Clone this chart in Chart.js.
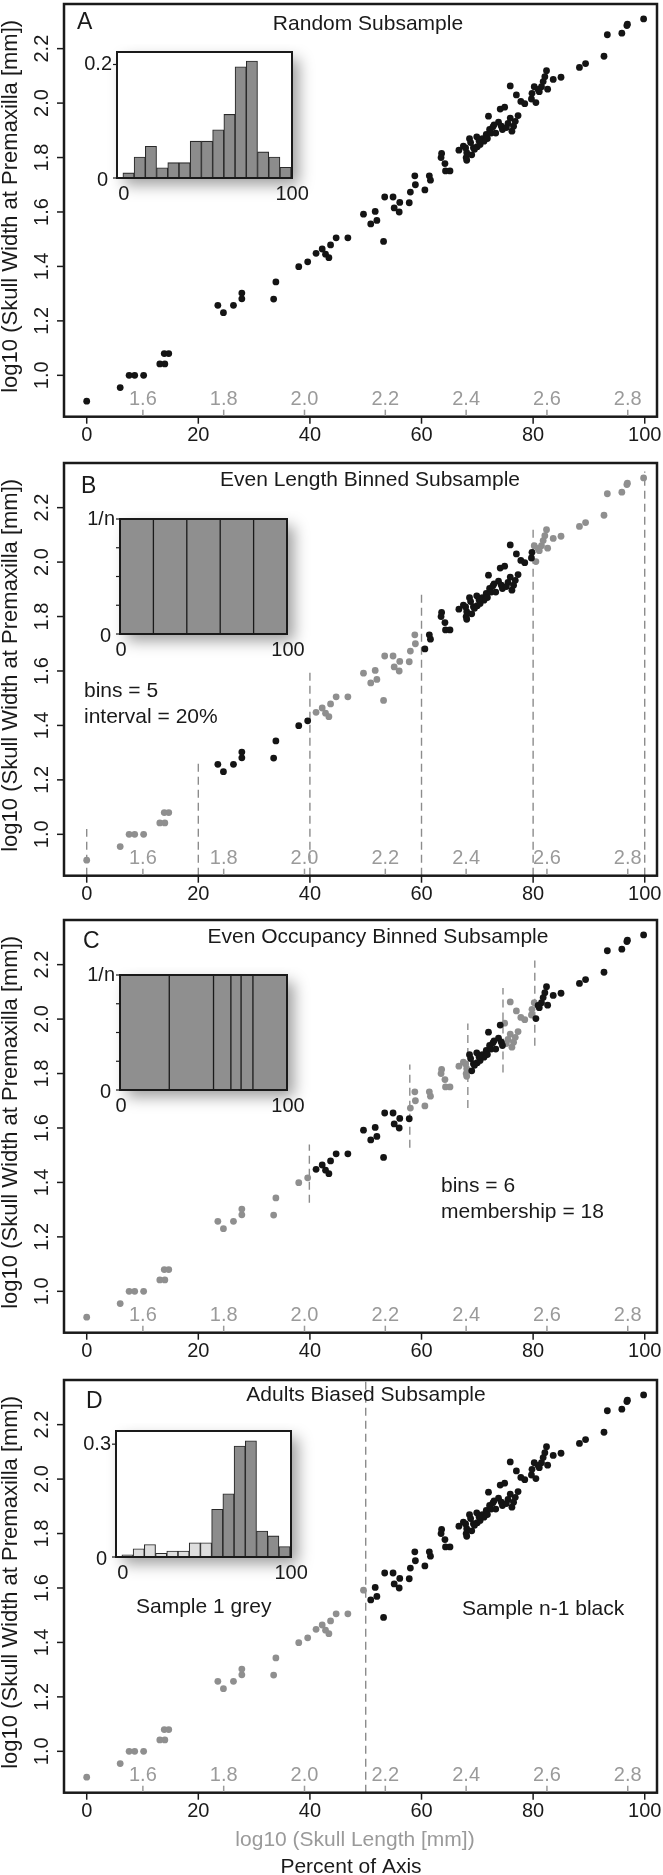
<!DOCTYPE html>
<html>
<head>
<meta charset="utf-8">
<script src="https://cdn.jsdelivr.net/npm/chart.js@4.4.1/dist/chart.umd.min.js"></script>
<style>
  html, body { margin: 0; padding: 0; background: #fff; }
  body { position: relative; width: 663px; height: 1875px; overflow: hidden; }
  canvas { position: absolute; }
</style>
</head>
<body>
<script>
// percent of axis (x) and log10 skull width at premaxilla (y)
const pctX = [
  0, 6.0, 7.6, 8.6, 10.2, 13.1, 14.0, 13.9, 14.7,
  23.5, 24.5, 26.3, 27.8, 27.8, 33.5, 33.9,
  38.0, 39.6, 41.1, 42.2, 42.8, 43.4, 43.7, 44.7, 46.8,
  49.6, 50.9, 51.7, 52.0, 53.2, 53.4, 54.9, 55.1, 56.0, 56.1,
  57.8, 58.0, 58.9, 58.8, 60.6, 61.4, 61.6,
  63.6, 63.5, 64.2, 64.3, 65.1,
  66.7, 67.5, 68.0, 68.1, 68.1, 68.6, 68.8, 69.3, 69.9, 70.0,
  70.5, 70.9, 71.2, 71.6, 72.0, 72.2, 72.5, 72.8, 73.3, 73.8,
  74.1, 74.3, 74.5, 74.9, 75.5, 75.9, 75.9, 76.2, 76.8, 77.0,
  77.3, 77.8, 78.5, 79.7, 79.8, 80.2, 80.5, 81.1, 81.5, 81.8,
  82.1, 82.4, 82.6, 83.6, 85.0, 88.3, 89.4, 92.7, 93.3, 95.9,
  96.8, 96.9, 99.8,
  69.5, 70.3, 71.8, 73.0, 76.5, 80.9, 67.9, 75.2, 69.0
];
const logW = [
  0.905, 0.955, 1.0, 1.0, 1.0, 1.042, 1.042, 1.08, 1.08,
  1.257, 1.23, 1.257, 1.281, 1.302, 1.28, 1.343,
  1.399, 1.417, 1.448, 1.464, 1.445, 1.432, 1.479, 1.505, 1.505,
  1.592, 1.556, 1.602, 1.569, 1.492, 1.655, 1.655, 1.615, 1.60, 1.635,
  1.634, 1.673, 1.70, 1.733, 1.681, 1.733, 1.717,
  1.815, 1.80, 1.778, 1.751, 1.751,
  1.827, 1.842, 1.80, 1.79, 1.818, 1.869, 1.855, 1.836, 1.876, 1.84,
  1.848, 1.869, 1.86, 1.885, 1.952, 1.903, 1.89, 1.913, 1.89, 1.93,
  1.978, 1.915, 1.903, 1.985, 1.925, 1.945, 2.063, 1.897, 1.933, 2.03,
  1.954, 2.006, 1.998, 2.015, 2.036, 2.06, 2.002, 2.042, 2.06, 2.079,
  2.097, 2.119, 2.051, 2.087, 2.095, 2.131, 2.145, 2.172, 2.251, 2.257,
  2.285, 2.29, 2.309,
  1.83, 1.862, 1.87, 1.92, 1.915, 2.05, 1.835, 1.91, 1.81
];

const pctTicks = [0, 20, 40, 60, 80, 100];
const widthTicks = [1.0, 1.2, 1.4, 1.6, 1.8, 2.0, 2.2];
const lengthTicks = [1.6, 1.8, 2.0, 2.2, 2.4, 2.6, 2.8];
const lengthAtZero = 1.461;   // log10 skull length at 0 % of axis
const lengthAt100 = 2.842;    // log10 skull length at 100 % of axis

// inset histograms (proportion per bin, 15 equal bins over 0-100)
const histA = [0.009, 0.037, 0.056, 0.018, 0.027, 0.027, 0.065, 0.065, 0.085, 0.112, 0.196, 0.206, 0.046, 0.037, 0.019];
const histD = [0.006, 0.022, 0.033, 0.010, 0.016, 0.016, 0.038, 0.038, 0.127, 0.168, 0.295, 0.309, 0.069, 0.056, 0.028];
const histDGreyBins = 8;

// binning schemes
const edgesB = [0, 20, 40, 60, 80, 100];
const cutTopB = [1.02, 1.267, 1.594, 1.885, 2.127, 2.333];
const insetEdgesC = [0, 29.5, 56, 66.4, 72.5, 79.6, 100];
const cutsC = [39.9, 57.9, 68.3, 74.6, 80.3];
const cutLoC = [1.325, 1.527, 1.673, 1.804, 1.902];
const cutHiC = [1.539, 1.833, 1.984, 2.114, 2.215];
const cutD = 50;

const FONT = '"Liberation Sans", Arial, Helvetica, sans-serif';
const INK = '#1a1a1a';
const GREY_TXT = '#9a9a9a';
const BLACK_PT = '#141414';
const GREY_PT = '#8f8f8f';
const X_MIN = -4.07, X_MAX = 102.2, Y_MIN = 0.848, Y_MAX = 2.364;
const PANEL_H = 499;

const panels = [
  {
    id: 'A', top: 0, title: 'Random Subsample', titleX: 368, titleY: 24, letterX: 77, letterY: 23,
    groupEdges: [0, 101], blackGroups: [0], cuts: [], notes: [],
    inset: { l: 117, r: 292, t: 52, b: 178, kind: 'hist', values: histA, light: 0,
             xMin: -3.5, xMax: 100.5, yMax: 0.222, yTicks: [0, 0.2], yText: ['0', '0.2'], minor: [] }
  },
  {
    id: 'B', top: 459, title: 'Even Length Binned Subsample', titleX: 370, titleY: 480, letterX: 81, letterY: 487,
    groupEdges: [0, 20, 40, 60, 80, 101], blackGroups: [1, 3],
    cuts: edgesB.map((x, i) => ({ x, lo: Y_MIN, hi: cutTopB[i] })),
    notes: [{ t: 'bins = 5', x: 84, y: 691 }, { t: 'interval = 20%', x: 84, y: 717 }],
    inset: { l: 120, r: 287, t: 519, b: 634, kind: 'bins', edges: edgesB,
             xMin: 0, xMax: 100, yMax: 1, yTicks: [0, 1], yText: ['0', '1/n'], minor: [0.25, 0.5, 0.75] }
  },
  {
    id: 'C', top: 916, title: 'Even Occupancy Binned Subsample', titleX: 378, titleY: 937, letterX: 83, letterY: 942,
    groupEdges: [0, 39.9, 57.9, 68.3, 74.6, 80.3, 101], blackGroups: [1, 3, 5],
    cuts: cutsC.map((x, i) => ({ x, lo: cutLoC[i], hi: cutHiC[i] })),
    notes: [{ t: 'bins = 6', x: 441, y: 1186 }, { t: 'membership = 18', x: 441, y: 1212 }],
    inset: { l: 120, r: 287, t: 975, b: 1090, kind: 'bins', edges: insetEdgesC,
             xMin: 0, xMax: 100, yMax: 1, yTicks: [0, 1], yText: ['0', '1/n'], minor: [0.25, 0.5, 0.75] }
  },
  {
    id: 'D', top: 1376, title: 'Adults Biased Subsample', titleX: 366, titleY: 1395, letterX: 86, letterY: 1402,
    groupEdges: [0, cutD, 101], blackGroups: [1],
    cuts: [{ x: cutD, lo: Y_MIN, hi: Y_MAX }],
    notes: [{ t: 'Sample 1 grey', x: 136, y: 1607 }, { t: 'Sample n-1 black', x: 462, y: 1609 }],
    xTitles: [{ t: 'log10 (Skull Length [mm])', x: 355, y: 1840, c: GREY_TXT },
              { t: 'Percent of Axis', x: 351, y: 1867, c: INK }],
    inset: { l: 116, r: 291, t: 1431, b: 1557, kind: 'hist', values: histD, light: histDGreyBins,
             xMin: -3.5, xMax: 100.5, yMax: 0.335, yTicks: [0, 0.3], yText: ['0', '0.3'], minor: [] }
  }
];

function makeCanvas(left, top, w, h) {
  const c = document.createElement('canvas');
  c.width = w; c.height = h;
  c.style.left = left + 'px'; c.style.top = top + 'px';
  c.style.width = w + 'px'; c.style.height = h + 'px';
  document.body.appendChild(c);
  return c;
}

function seg(ctx, x1, y1, x2, y2) {
  ctx.beginPath(); ctx.moveTo(x1, y1); ctx.lineTo(x2, y2); ctx.stroke();
}

const mainDecor = p => ({
  id: 'decor' + p.id,
  afterDraw(chart) {
    const { ctx, chartArea: a, scales: { x, y } } = chart;
    const off = p.top;
    ctx.save();
    ctx.strokeStyle = INK; ctx.fillStyle = INK;
    ctx.lineWidth = 2.5;
    ctx.strokeRect(a.left, a.top, a.right - a.left, a.bottom - a.top);

    ctx.lineWidth = 1.5;
    ctx.font = '20px ' + FONT;
    ctx.textAlign = 'center'; ctx.textBaseline = 'middle';
    pctTicks.forEach(v => {
      const px = x.getPixelForValue(v);
      seg(ctx, px, a.bottom, px, a.bottom + 7);
      ctx.fillText(String(v), px, a.bottom + 19);
    });
    widthTicks.forEach(v => {
      const py = y.getPixelForValue(v);
      seg(ctx, a.left - 7, py, a.left, py);
      ctx.save();
      ctx.translate(a.left - 22, py);
      ctx.rotate(-Math.PI / 2);
      ctx.fillText(v.toFixed(1), 0, 0);
      ctx.restore();
    });

    // y axis title
    ctx.save();
    ctx.font = '22px ' + FONT;
    ctx.translate(11, (a.top + a.bottom) / 2 - 4);
    ctx.rotate(-Math.PI / 2);
    ctx.fillText('log10 (Skull Width at Premaxilla [mm])', 0, 0);
    ctx.restore();

    // grey log10 skull length axis inside the frame
    ctx.strokeStyle = GREY_TXT; ctx.fillStyle = GREY_TXT;
    lengthTicks.forEach(L => {
      const px = x.getPixelForValue((L - lengthAtZero) / (lengthAt100 - lengthAtZero) * 100);
      seg(ctx, px, a.bottom - 1, px, a.bottom - 7);
      ctx.fillText(L.toFixed(1), px, a.bottom - 17);
    });

    // title, panel letter, notes
    ctx.fillStyle = INK;
    ctx.font = '21px ' + FONT;
    ctx.fillText(p.title, p.titleX, p.titleY - off);
    ctx.textAlign = 'left';
    p.notes.forEach(n => ctx.fillText(n.t, n.x, n.y - off));
    ctx.font = '23px ' + FONT;
    ctx.fillText(p.id, p.letterX, p.letterY - off);
    if (p.xTitles) {
      ctx.textAlign = 'center';
      ctx.font = '21px ' + FONT;
      p.xTitles.forEach(t => { ctx.fillStyle = t.c; ctx.fillText(t.t, t.x, t.y - off); });
    }
    ctx.restore();
  }
});

function drawMain(p) {
  const cv = makeCanvas(0, p.top, 663, PANEL_H);
  const black = [], grey = [];
  pctX.forEach((x, i) => {
    let g = 0;
    while (g < p.groupEdges.length - 2 && x >= p.groupEdges[g + 1]) g++;
    (p.blackGroups.includes(g) ? black : grey).push({ x, y: logW[i] });
  });
  const datasets = [
    { data: black, backgroundColor: BLACK_PT, borderWidth: 0, pointRadius: 3.4 },
    { data: grey, backgroundColor: GREY_PT, borderWidth: 0, pointRadius: 3.4 }
  ];
  p.cuts.forEach(c => datasets.push({
    type: 'line', data: [{ x: c.x, y: c.lo }, { x: c.x, y: c.hi }],
    borderColor: '#8c8c8c', borderWidth: 1.4, borderDash: [8, 5], pointRadius: 0, fill: false
  }));
  new Chart(cv, {
    type: 'scatter',
    data: { datasets },
    options: {
      responsive: false, animation: false, events: [],
      layout: { padding: { left: 64, right: 6, top: 1, bottom: PANEL_H - 1 - 415.7 } },
      plugins: { legend: { display: false }, tooltip: { enabled: false } },
      scales: {
        x: { type: 'linear', display: false, min: X_MIN, max: X_MAX },
        y: { type: 'linear', display: false, min: Y_MIN, max: Y_MAX }
      }
    },
    plugins: [mainDecor(p)]
  });
}

const insetDecor = f => ({
  id: 'insetDecor',
  beforeDraw(chart) {
    const { ctx, chartArea: a } = chart;
    ctx.save();
    ctx.shadowColor = 'rgba(0,0,0,0.38)';
    ctx.shadowBlur = 14; ctx.shadowOffsetX = 7; ctx.shadowOffsetY = 7;
    ctx.fillStyle = '#fff';
    ctx.fillRect(a.left, a.top, a.right - a.left, a.bottom - a.top);
    ctx.restore();
  },
  afterDraw(chart) {
    const { ctx, chartArea: a, scales: { x, y } } = chart;
    ctx.save();
    ctx.strokeStyle = INK; ctx.fillStyle = INK;
    ctx.lineWidth = 2;
    ctx.strokeRect(a.left, a.top, a.right - a.left, a.bottom - a.top);
    ctx.lineWidth = 1.2;
    ctx.font = '20px ' + FONT;
    ctx.textBaseline = 'middle';
    ctx.textAlign = 'right';
    f.yTicks.forEach((v, i) => {
      const py = y.getPixelForValue(v);
      seg(ctx, a.left - 4, py, a.left, py);
      ctx.fillText(f.yText[i], a.left - (v === 0 ? 9 : 5), py + (v === 0 ? 2 : 0));
    });
    f.minor.forEach(v => {
      const py = y.getPixelForValue(v);
      seg(ctx, a.left - 4, py, a.left, py);
    });
    ctx.textAlign = 'center';
    [0, 100].forEach(v => ctx.fillText(String(v), x.getPixelForValue(v) + 1, a.bottom + 16));
    ctx.restore();
  }
});

function drawInset(p) {
  const f = p.inset;
  const pl = 50, pt = 8, pr = 30, pb = 34;
  const w = f.r - f.l, h = f.b - f.t;
  const cv = makeCanvas(f.l - pl, f.t - pt, w + pl + pr, h + pt + pb);
  let datasets, type;
  if (f.kind === 'hist') {
    type = 'bar';
    const bw = 100 / f.values.length;
    datasets = [{
      data: f.values.map((v, i) => ({ x: (i + 0.5) * bw, y: v })),
      backgroundColor: f.values.map((v, i) => (i < f.light ? '#dedede' : '#8c8c8c')),
      borderColor: '#2a2a2a', borderWidth: 1.1, borderSkipped: 'bottom',
      barPercentage: 1, categoryPercentage: 1
    }];
  } else {
    type = 'scatter';
    // bin edges first so they are drawn over the filled block
    datasets = f.edges.slice(1, -1).map(e => ({
      type: 'line', data: [{ x: e, y: 0 }, { x: e, y: 1 }],
      borderColor: '#1a1a1a', borderWidth: 1.3, pointRadius: 0, fill: false
    }));
    datasets.push({
      type: 'line', data: [{ x: f.edges[0], y: 1 }, { x: f.edges[f.edges.length - 1], y: 1 }],
      fill: 'origin', backgroundColor: '#8f8f8f', borderWidth: 0, pointRadius: 0
    });
  }
  new Chart(cv, {
    type,
    data: { datasets },
    options: {
      responsive: false, animation: false, events: [],
      layout: { padding: { left: pl, right: pr, top: pt, bottom: pb } },
      plugins: { legend: { display: false }, tooltip: { enabled: false } },
      scales: {
        x: { type: 'linear', display: false, offset: false, min: f.xMin, max: f.xMax },
        y: { type: 'linear', display: false, min: 0, max: f.yMax }
      }
    },
    plugins: [insetDecor(f)]
  });
}

panels.forEach(p => { drawMain(p); drawInset(p); });
</script>
</body>
</html>
